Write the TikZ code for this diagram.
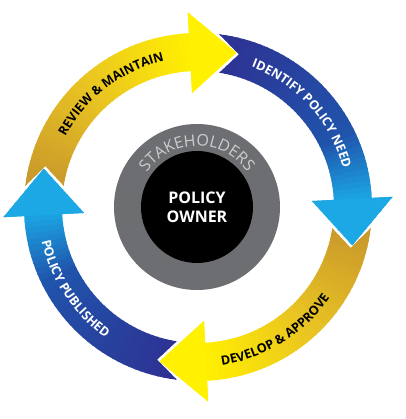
\documentclass[tikz,border=0pt]{standalone}
\usepackage{fontspec}
\setmainfont{Open Sans}
\usepackage{tikz}
\usetikzlibrary{decorations.text}

\definecolor{goldTail}{RGB}{200,152,44}
\definecolor{goldMid}{RGB}{234,196,34}
\definecolor{yellowHead}{RGB}{255,241,0}
\definecolor{blueTail}{RGB}{46,49,146}
\definecolor{blueMid}{RGB}{32,84,172}
\definecolor{blueHead}{RGB}{27,168,229}
\definecolor{ringGray}{RGB}{108,110,114}
\definecolor{stakeGray}{RGB}{204,205,207}

\newcommand\arcfont{\bfseries\fontsize{12.6}{14}\selectfont}
% colour between tail, mid and head, from \pct (0..100)
\newcommand\mixcol[4]{%
  \ifdim\pct pt<#4pt
    \pgfmathsetmacro\qq{\pct/#4*100}\edef\col{#2!\qq!#1}%
  \else
    \pgfmathsetmacro\qq{(\pct-#4)/(100-#4)*100}\edef\col{#3!\qq!#2}%
  \fi}

\tikzset{
  arctext/.style={decorate, decoration={text along path, text align=center}},
  stakering/.style={circle, fill=ringGray, minimum size=166pt, inner sep=0pt},
  ownerdisc/.style={circle, fill=black, minimum size=112pt, inner sep=0pt,
    text=white, align=center, font=\bfseries\fontsize{16}{19}\selectfont}
}

\begin{document}
\begin{tikzpicture}
\useasboundingbox[fill=white] (-198pt,-212pt) rectangle (207pt,207pt);

% review & maintain
\begin{scope}
\clip (173:174pt) arc[start angle=173, end angle=93, radius=174pt] -- (93:195pt)
  -- (76:159pt) -- (93:114pt) -- (93:136pt)
  arc[start angle=93, end angle=171, radius=136pt] -- (165:158pt) -- cycle;
\foreach \i in {0,...,54} {
  \pgfmathsetmacro\ang{175-2*\i}
  \pgfmathsetmacro\pct{max(0,min(100,(173-\ang)/80*100))}
  \mixcol{goldTail}{goldMid}{yellowHead}{50}
  \fill[fill=\col] (0,0) -- (\ang:230pt) -- ({\ang-2.6}:230pt) -- cycle;
}
\end{scope}

% identify policy need
\begin{scope}
\clip (83:174pt) arc[start angle=83, end angle=3, radius=174pt] -- (3:195pt)
  -- (-14:159pt) -- (3:114pt) -- (3:136pt)
  arc[start angle=3, end angle=81, radius=136pt] -- (75:158pt) -- cycle;
\foreach \i in {0,...,54} {
  \pgfmathsetmacro\ang{85-2*\i}
  \pgfmathsetmacro\pct{max(0,min(100,(83-\ang)/80*100))}
  \mixcol{blueTail}{blueMid}{blueHead}{70}
  \fill[fill=\col] (0,0) -- (\ang:230pt) -- ({\ang-2.6}:230pt) -- cycle;
}
\end{scope}

% develop & approve
\begin{scope}
\clip (-7:174pt) arc[start angle=-7, end angle=-87, radius=174pt] -- (-87:195pt)
  -- (-104:159pt) -- (-87:114pt) -- (-87:136pt)
  arc[start angle=-87, end angle=-9, radius=136pt] -- (-15:158pt) -- cycle;
\foreach \i in {0,...,54} {
  \pgfmathsetmacro\ang{-5-2*\i}
  \pgfmathsetmacro\pct{max(0,min(100,(-7-\ang)/80*100))}
  \mixcol{goldTail}{goldMid}{yellowHead}{50}
  \fill[fill=\col] (0,0) -- (\ang:230pt) -- ({\ang-2.6}:230pt) -- cycle;
}
\end{scope}

% policy published
\begin{scope}
\clip (-97:174pt) arc[start angle=-97, end angle=-177, radius=174pt] -- (-177:195pt)
  -- (-194:159pt) -- (-177:114pt) -- (-177:136pt)
  arc[start angle=-177, end angle=-99, radius=136pt] -- (-105:158pt) -- cycle;
\foreach \i in {0,...,54} {
  \pgfmathsetmacro\ang{-95-2*\i}
  \pgfmathsetmacro\pct{max(0,min(100,(-97-\ang)/80*100))}
  \mixcol{blueTail}{blueMid}{blueHead}{70}
  \fill[fill=\col] (0,0) -- (\ang:230pt) -- ({\ang-2.6}:230pt) -- cycle;
}
\end{scope}

\path[arctext, decoration={text={|\arcfont|REVIEW {\&} MAINTAIN}, text color=black}]
  (170:150pt) arc[start angle=170, end angle=85, radius=150pt];
\path[arctext, decoration={text={|\arcfont|IDENTIFY POLICY NEED}, text color=white}]
  (85:150pt) arc[start angle=85, end angle=-1, radius=150pt];
\path[arctext, decoration={text={|\arcfont|DEVELOP {\&} APPROVE}, text color=black}]
  (-103:160pt) arc[start angle=-103, end angle=-13, radius=160pt];
\path[arctext, decoration={text={|\arcfont|POLICY PUBLISHED}, text color=white}]
  (170:160pt) arc[start angle=170, end angle=257, radius=160pt];

\node[stakering] (stake) at (-1pt,0) {};
\path[arctext, decoration={text={|\fontsize{16}{18}\selectfont|STAKEHOLDERS}, text color=stakeGray}]
  ([xshift=-1pt]180:61pt) arc[start angle=180, end angle=0, radius=61pt];
\node[ownerdisc] (owner) at (stake) {POLICY\\OWNER};

\end{tikzpicture}
\end{document}
